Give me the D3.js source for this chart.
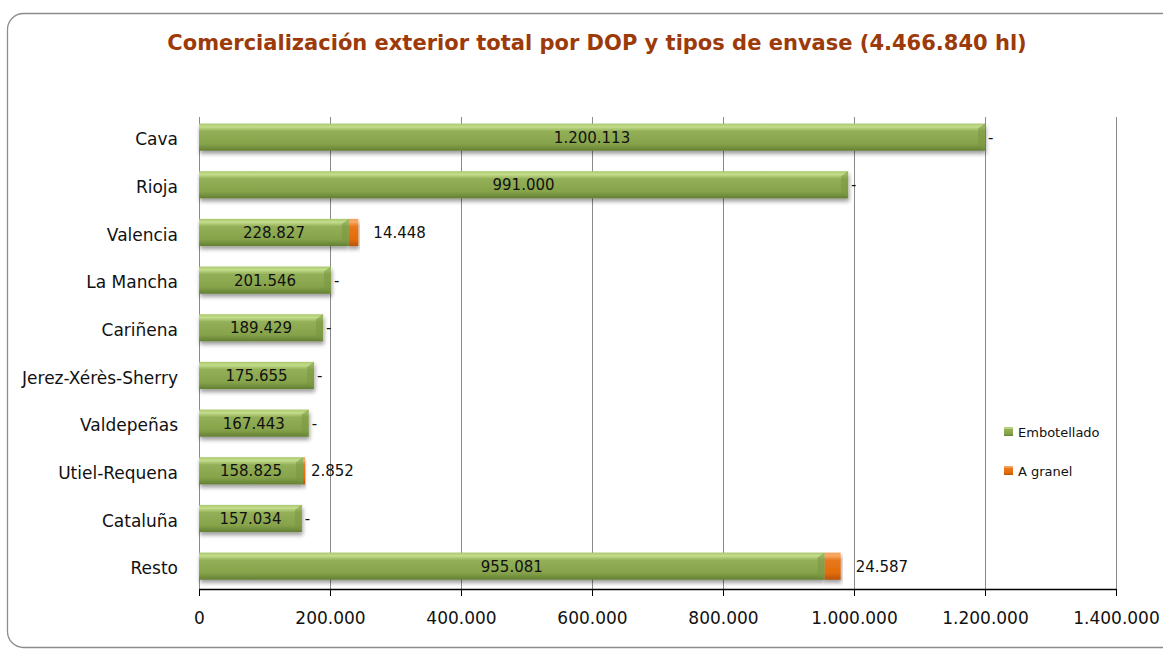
<!DOCTYPE html>
<html><head><meta charset="utf-8">
<script src="https://cdn.jsdelivr.net/npm/d3@7"></script>
<style>html,body{margin:0;padding:0;background:#fff;}svg{display:block;}</style>
</head><body>
<svg id="chart" width="1163" height="651"></svg>
<script>
const categories = ["Cava","Rioja","Valencia","La Mancha","Cariñena","Jerez-Xérès-Sherry","Valdepeñas","Utiel-Requena","Cataluña","Resto"];
const embotellado = [1200113, 991000, 228827, 201546, 189429, 175655, 167443, 158825, 157034, 955081];
const granel = [0, 0, 14448, 0, 0, 0, 0, 2852, 0, 24587];
const xTicks = [0, 200000, 400000, 600000, 800000, 1000000, 1200000, 1400000];
const seriesNames = ["Embotellado", "A granel"];
const titleText = "Comercialización exterior total por DOP y tipos de envase (4.466.840 hl)";

const numFmt = v => d3.format(",")(v).replace(/,/g, ".");
const fmt = v => v === 0 ? "-" : numFmt(v);
const FONT = "DejaVu Sans, Verdana, sans-serif";

const svg = d3.select("#chart");
const defs = svg.append("defs");

function grad(id, stops) {
  const g = defs.append("linearGradient").attr("id", id).attr("x1", 0).attr("y1", 0).attr("x2", 0).attr("y2", 1);
  stops.forEach(s => g.append("stop").attr("offset", s[0]).attr("stop-color", s[1]));
}
grad("gGreen", [[0, "#a9c76c"], [0.12, "#c4dd8c"], [0.28, "#93b058"], [0.75, "#86a34b"], [1, "#637f33"]]);
grad("gOrange", [[0, "#f5a35c"], [0.12, "#f7a865"], [0.28, "#e8781c"], [0.75, "#e36c0a"], [1, "#b65408"]]);
const f = defs.append("filter").attr("id", "shadow").attr("x", "-5%").attr("y", "-30%").attr("width", "115%").attr("height", "180%");
f.append("feGaussianBlur").attr("in", "SourceAlpha").attr("stdDeviation", 2);
f.append("feOffset").attr("dx", 1).attr("dy", 3).attr("result", "ob");
f.append("feComponentTransfer").append("feFuncA").attr("type", "linear").attr("slope", 0.4);
const fm = f.append("feMerge"); fm.append("feMergeNode"); fm.append("feMergeNode").attr("in", "SourceGraphic");

// frame
svg.append("rect").attr("x", 7.5).attr("y", 13.5).attr("width", 1220).attr("height", 634)
  .attr("rx", 16).attr("fill", "#fff").attr("stroke", "#8c8c8c").attr("stroke-width", 1.3);

svg.append("text").attr("x", 597).attr("y", 50).attr("text-anchor", "middle")
  .attr("font-family", FONT).attr("font-weight", "bold").attr("font-size", 21)
  .attr("fill", "#9c3a0a").text(titleText);

const x = d3.scaleLinear().domain([0, 1400000]).range([199, 1116]);
const y = d3.scaleBand().domain(categories).range([113.3, 590]).paddingInner(0.43).paddingOuter(0.215);
const plotTop = 117, plotBottom = 589;

// gridlines
svg.append("g").selectAll("line").data(xTicks.slice(1)).join("line")
  .attr("x1", d => Math.round(x(d)) + 0.5).attr("x2", d => Math.round(x(d)) + 0.5)
  .attr("y1", plotTop).attr("y2", plotBottom).attr("stroke", "#8a8a8a").attr("stroke-width", 1);
svg.append("line").attr("x1", 199.5).attr("x2", 199.5).attr("y1", plotTop).attr("y2", plotBottom)
  .attr("stroke", "#8a8a8a");

// bars
const rows = categories.map((c, i) => ({ c, e: embotellado[i], g: granel[i] }));
const bars = svg.append("g");
bars.selectAll("rect.e").data(rows).join("rect").attr("class", "e")
  .attr("x", x(0)).attr("y", d => y(d.c)).attr("width", d => x(d.e) - x(0)).attr("height", y.bandwidth())
  .attr("fill", "url(#gGreen)").attr("filter", "url(#shadow)");
bars.selectAll("rect.g").data(rows.filter(d => d.g > 0)).join("rect").attr("class", "g")
  .attr("x", d => x(d.e)).attr("y", d => y(d.c)).attr("width", d => Math.max(2, x(d.e + d.g) - x(d.e))).attr("height", y.bandwidth())
  .attr("fill", "url(#gOrange)").attr("filter", "url(#shadow)");
// bevel right end of green
bars.selectAll("path.bev").data(rows).join("path").attr("class", "bev")
  .attr("d", d => {
    const xe = x(d.e), yt = y(d.c), h = y.bandwidth();
    return `M${xe - 7},${yt + 5} L${xe},${yt} L${xe},${yt + h} L${xe - 7},${yt + h - 5} Z`;
  }).attr("fill", "#7a963f").attr("opacity", 0.55);

// labels inside bars
svg.append("g").selectAll("text").data(rows).join("text")
  .attr("x", d => (x(0) + x(d.e)) / 2).attr("y", d => y(d.c) + y.bandwidth() / 2)
  .attr("dy", "0.36em").attr("text-anchor", "middle")
  .attr("font-family", FONT).attr("font-size", 15).attr("fill", "#111").text(d => fmt(d.e));
// granel labels
svg.append("g").selectAll("text").data(rows).join("text")
  .attr("x", d => x(d.e + d.g) + (d.g > 10000 ? 15 : (d.g > 0 ? 6 : 3)))
  .attr("y", d => y(d.c) + y.bandwidth() / 2)
  .attr("dy", "0.36em").attr("text-anchor", "start")
  .attr("font-family", FONT).attr("font-size", 15).attr("fill", "#111").text(d => fmt(d.g));

// category labels
svg.append("g").selectAll("text").data(categories).join("text")
  .attr("x", 178).attr("y", d => y(d) + y.bandwidth() / 2 + 2).attr("dy", "0.36em")
  .attr("text-anchor", "end").attr("font-family", FONT).attr("font-size", 17).attr("fill", "#111").text(d => d);

// x axis
const ax = svg.append("g").attr("transform", `translate(0,${plotBottom})`)
  .call(d3.axisBottom(x).tickValues(xTicks).tickFormat(numFmt).tickSize(7).tickSizeOuter(0));
ax.select(".domain").attr("stroke", "#000").attr("stroke-width", 1.5);
ax.selectAll(".tick line").attr("stroke", "#000");
ax.selectAll(".tick text").attr("font-family", FONT).attr("font-size", 17).attr("fill", "#111").attr("dy", "1.45em");

// legend
const lg = svg.append("g");
lg.append("rect").attr("x", 987).attr("y", 414).attr("width", 127).attr("height", 78).attr("fill", "#fff");
const colors = ["url(#gGreen)", "url(#gOrange)"];
seriesNames.forEach((n, i) => {
  const yy = 432 + i * 39;
  lg.append("rect").attr("x", 1004).attr("y", yy - 5).attr("width", 9).attr("height", 9).attr("fill", colors[i]);
  lg.append("text").attr("x", 1018).attr("y", yy).attr("dy", "0.36em")
    .attr("font-family", FONT).attr("font-size", 13).attr("fill", "#111").text(n);
});
</script>
</body></html>
